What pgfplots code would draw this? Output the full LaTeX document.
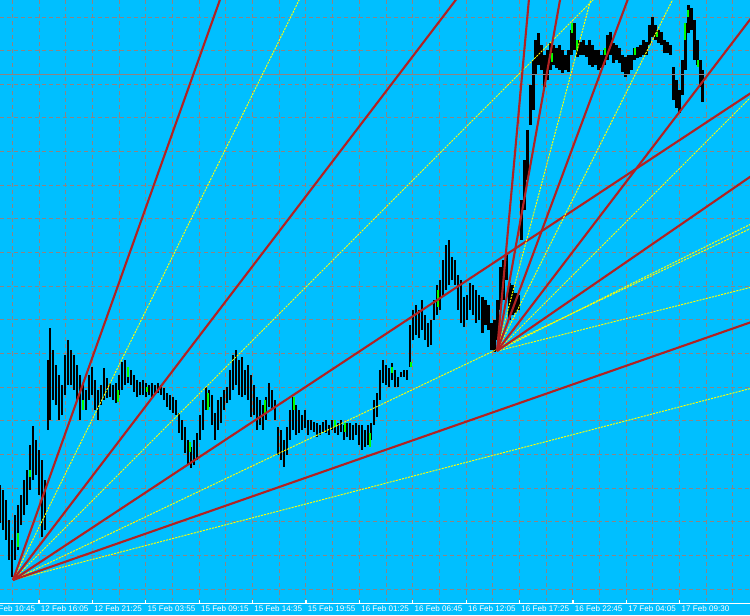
\documentclass[border=0pt]{standalone}
\usepackage{pgfplots}
\usepackage{pgfplotstable}
\pgfplotsset{compat=1.18}
\usepackage{fontspec}
\setmainfont{Liberation Sans}

\definecolor{bgblue}{RGB}{0,191,255}
\definecolor{gridc}{RGB}{140,132,132}
\definecolor{fanred}{RGB}{178,34,34}
\definecolor{fanyel}{RGB}{255,255,0}
\definecolor{bull}{RGB}{0,255,0}

% bars: x, low, high (screen pixels, y grows downwards)
\pgfplotstableread{
x lo hi
0 485 523
3 490 530
6 500 540
9 520 560
12 540 577
15 515 560
18 505 550
21 495 525
24 480 515
27 470 505
30 445 490
33 426 480
36 440 475
39 450 495
42 460 537
45 480 530
48 360 430
50 328 420
53 350 400
56 365 405
59 375 420
62 385 415
65 355 395
68 340 385
71 350 385
74 355 390
77 365 400
80 375 420
83 385 407
86 390 410
89 375 400
92 367 395
95 380 410
98 390 420
101 385 405
104 368 400
107 378 398
110 383 397
113 385 400
116 383 403
119 375 395
122 362 390
125 360 385
128 367 383
131 370 385
134 375 392
137 380 397
140 382 395
143 380 395
146 383 397
149 385 395
152 383 397
155 385 395
158 383 393
161 385 395
164 388 400
167 393 407
170 395 410
173 397 413
176 400 415
179 413 433
182 420 440
185 427 453
188 440 465
191 447 468
194 440 465
197 433 460
200 415 440
203 400 430
206 387 410
209 390 407
212 395 425
215 413 440
218 400 430
221 397 423
224 390 410
227 387 403
230 370 400
233 355 390
236 350 385
239 360 395
242 357 397
245 370 395
248 365 400
251 375 417
254 385 415
257 397 430
260 400 425
263 405 430
266 397 420
269 383 407
272 390 410
275 400 420
278 427 455
281 430 460
284 440 467
287 427 455
290 410 440
293 397 430
296 405 435
299 410 433
302 415 430
305 410 428
308 420 435
311 420 430
314 422 432
317 423 437
320 425 435
323 422 432
326 420 433
329 425 435
332 420 430
335 421 433
338 423 435
341 420 432
344 425 440
347 423 437
350 423 440
353 425 440
356 423 435
359 425 445
362 425 450
365 430 447
368 425 445
371 423 440
374 400 425
377 393 417
380 370 400
383 360 383
386 365 385
389 368 387
392 363 380
395 370 387
398 377 387
401 372 377
404 370 377
407 370 380
410 325 367
413 310 340
416 305 335
419 310 338
422 300 330
425 315 340
428 323 347
431 320 345
434 300 320
437 285 315
440 280 310
443 260 297
446 245 290
449 240 285
452 257 280
455 260 285
458 275 310
461 280 323
464 297 327
467 295 320
470 283 310
473 285 315
476 290 323
479 295 320
482 297 333
485 300 325
488 305 330
491 323 350
494 320 352
497 300 340
500 267 310
503 260 300
506 253 280
509 283 320
512 285 315
515 293 313
518 295 310
521 200 240
524 160 210
527 130 180
530 85 125
533 60 110
535 40 75
538 33 65
541 45 70
544 55 87
547 50 80
550 43 70
553 45 65
556 48 68
559 45 70
562 50 73
565 55 70
568 50 72
571 30 55
574 23 50
577 40 57
580 42 55
583 40 55
586 45 57
589 40 65
592 45 67
595 50 65
598 50 70
601 55 68
604 50 65
607 35 60
610 32 55
613 43 63
616 45 60
619 48 63
622 55 72
625 57 77
628 55 75
631 55 70
634 48 60
637 47 58
640 45 57
643 40 55
646 42 55
649 25 45
652 17 37
655 25 40
658 30 43
661 32 45
664 40 53
667 42 53
670 45 55
673 67 100
676 80 108
679 90 113
682 60 95
685 23 70
688 5 33
691 8 30
694 20 60
697 40 65
700 60 87
702 70 102
}\bars

\pgfplotstableread{
x lo hi
18 533 547
30 470 477
83 400 410
118 390 402
128 367 377
147 387 392
190 442 452
208 393 410
265 400 413
294 397 410
335 420 427
345 423 432
370 433 447
392 367 373
411 362 367
438 290 307
552 53 62
572 23 33
577 40 50
605 48 55
635 48 55
657 32 37
685 23 40
688 10 17
698 60 67
}\bullbars

\tikzset{
  tlab/.style={overlay, white, anchor=west, inner sep=0pt, font=\fontsize{4.6}{5}\selectfont},
  ttick/.style={white, line width=0.6pt},
  yel/.style={fanyel, line width=0.55pt, dash pattern=on 1.2pt off 0.6pt},
  red/.style={fanred, line width=1.2pt},
}

\begin{document}
\begin{tikzpicture}
\begin{axis}[
    width=15cm, height=12.3cm, scale only axis,
    xmin=0, xmax=750, ymin=0, ymax=615, y dir=reverse,
    axis background/.style={fill=bgblue},
    axis line style={draw=none},
    xtick={12.5,39.18,...,735}, ytick={17,50.65,...,590},
    xticklabels={}, yticklabels={},
    major tick length=0pt,
    grid=major,
    grid style={gridc, line width=0.57pt, dash pattern=on 2.3pt off 1.7pt},
    clip=true,
    error bars/error mark=none,
]
% price bars
\addplot[draw=none, mark=none,
    error bars/.cd, y dir=both, y explicit,
    error bar style={draw=black, line width=1.7pt}]
    table[x=x, y expr={0.5*(\thisrow{lo}+\thisrow{hi})},
          y error expr={0.5*(\thisrow{hi}-\thisrow{lo})}] {\bars};
\addplot[draw=none, mark=none,
    error bars/.cd, y dir=both, y explicit,
    error bar style={draw=bull, line width=1.1pt}]
    table[x=x, y expr={0.5*(\thisrow{lo}+\thisrow{hi})},
          y error expr={0.5*(\thisrow{hi}-\thisrow{lo})}] {\bullbars};

% horizontal level
\addplot[gridc, line width=0.65pt] coordinates {(0,74.3) (750,74.3)};

% fan 1, origin (13,580)
\addplot[yel] coordinates {(13,580) (309,-20)};
\addplot[yel] coordinates {(13,580) (613,-20)};
\addplot[yel] coordinates {(13,580) (760,224)};
\addplot[yel] coordinates {(13,580) (760,386)};
\addplot[red] coordinates {(13,580) (227,-20)};
\addplot[red] coordinates {(13,580) (471,-20)};
\addplot[red] coordinates {(13,580) (760,87)};
\addplot[red] coordinates {(13,580) (760,319)};

% fan 2, origin (497,351)
\addplot[yel] coordinates {(497,351) (596,-20)};
\addplot[yel] coordinates {(497,351) (682.5,-20)};
\addplot[yel] coordinates {(497,351) (760,88)};
\addplot[yel] coordinates {(497,351) (760,219.5)};
\addplot[yel] coordinates {(497,351) (760,285)};
\addplot[red] coordinates {(497,351) (530.7,-20)};
\addplot[red] coordinates {(497,351) (563.6,-20)};
\addplot[red] coordinates {(497,351) (635,-20)};
\addplot[red] coordinates {(497,351) (760,6.5)};
\addplot[red] coordinates {(497,351) (760,170)};

% time scale
\fill[bgblue] (axis cs:0,601) rectangle (axis cs:750,615);
\draw[ttick] (axis cs:0,603.5) -- (axis cs:750,603.5);
\draw[ttick] (axis cs:39,603.5) -- (axis cs:39,600);
\draw[ttick] (axis cs:92.4,603.5) -- (axis cs:92.4,600);
\draw[ttick] (axis cs:145.8,603.5) -- (axis cs:145.8,600);
\draw[ttick] (axis cs:199.2,603.5) -- (axis cs:199.2,600);
\draw[ttick] (axis cs:252.6,603.5) -- (axis cs:252.6,600);
\draw[ttick] (axis cs:306,603.5) -- (axis cs:306,600);
\draw[ttick] (axis cs:359.4,603.5) -- (axis cs:359.4,600);
\draw[ttick] (axis cs:412.8,603.5) -- (axis cs:412.8,600);
\draw[ttick] (axis cs:466.2,603.5) -- (axis cs:466.2,600);
\draw[ttick] (axis cs:519.6,603.5) -- (axis cs:519.6,600);
\draw[ttick] (axis cs:573,603.5) -- (axis cs:573,600);
\draw[ttick] (axis cs:626.4,603.5) -- (axis cs:626.4,600);
\draw[ttick] (axis cs:679.8,603.5) -- (axis cs:679.8,600);
\node[tlab] at (axis cs:-12.9,608.5) {12 Feb 10:45};
\node[tlab] at (axis cs:40.5,608.5) {12 Feb 16:05};
\node[tlab] at (axis cs:93.9,608.5) {12 Feb 21:25};
\node[tlab] at (axis cs:147.3,608.5) {15 Feb 03:55};
\node[tlab] at (axis cs:200.7,608.5) {15 Feb 09:15};
\node[tlab] at (axis cs:254.1,608.5) {15 Feb 14:35};
\node[tlab] at (axis cs:307.5,608.5) {15 Feb 19:55};
\node[tlab] at (axis cs:360.9,608.5) {16 Feb 01:25};
\node[tlab] at (axis cs:414.3,608.5) {16 Feb 06:45};
\node[tlab] at (axis cs:467.7,608.5) {16 Feb 12:05};
\node[tlab] at (axis cs:521.1,608.5) {16 Feb 17:25};
\node[tlab] at (axis cs:574.5,608.5) {16 Feb 22:45};
\node[tlab] at (axis cs:627.9,608.5) {17 Feb 04:05};
\node[tlab] at (axis cs:681.3,608.5) {17 Feb 09:30};
\end{axis}
\pgfresetboundingbox
\path (current axis.south west) rectangle (current axis.north east);
\end{tikzpicture}
\end{document}
